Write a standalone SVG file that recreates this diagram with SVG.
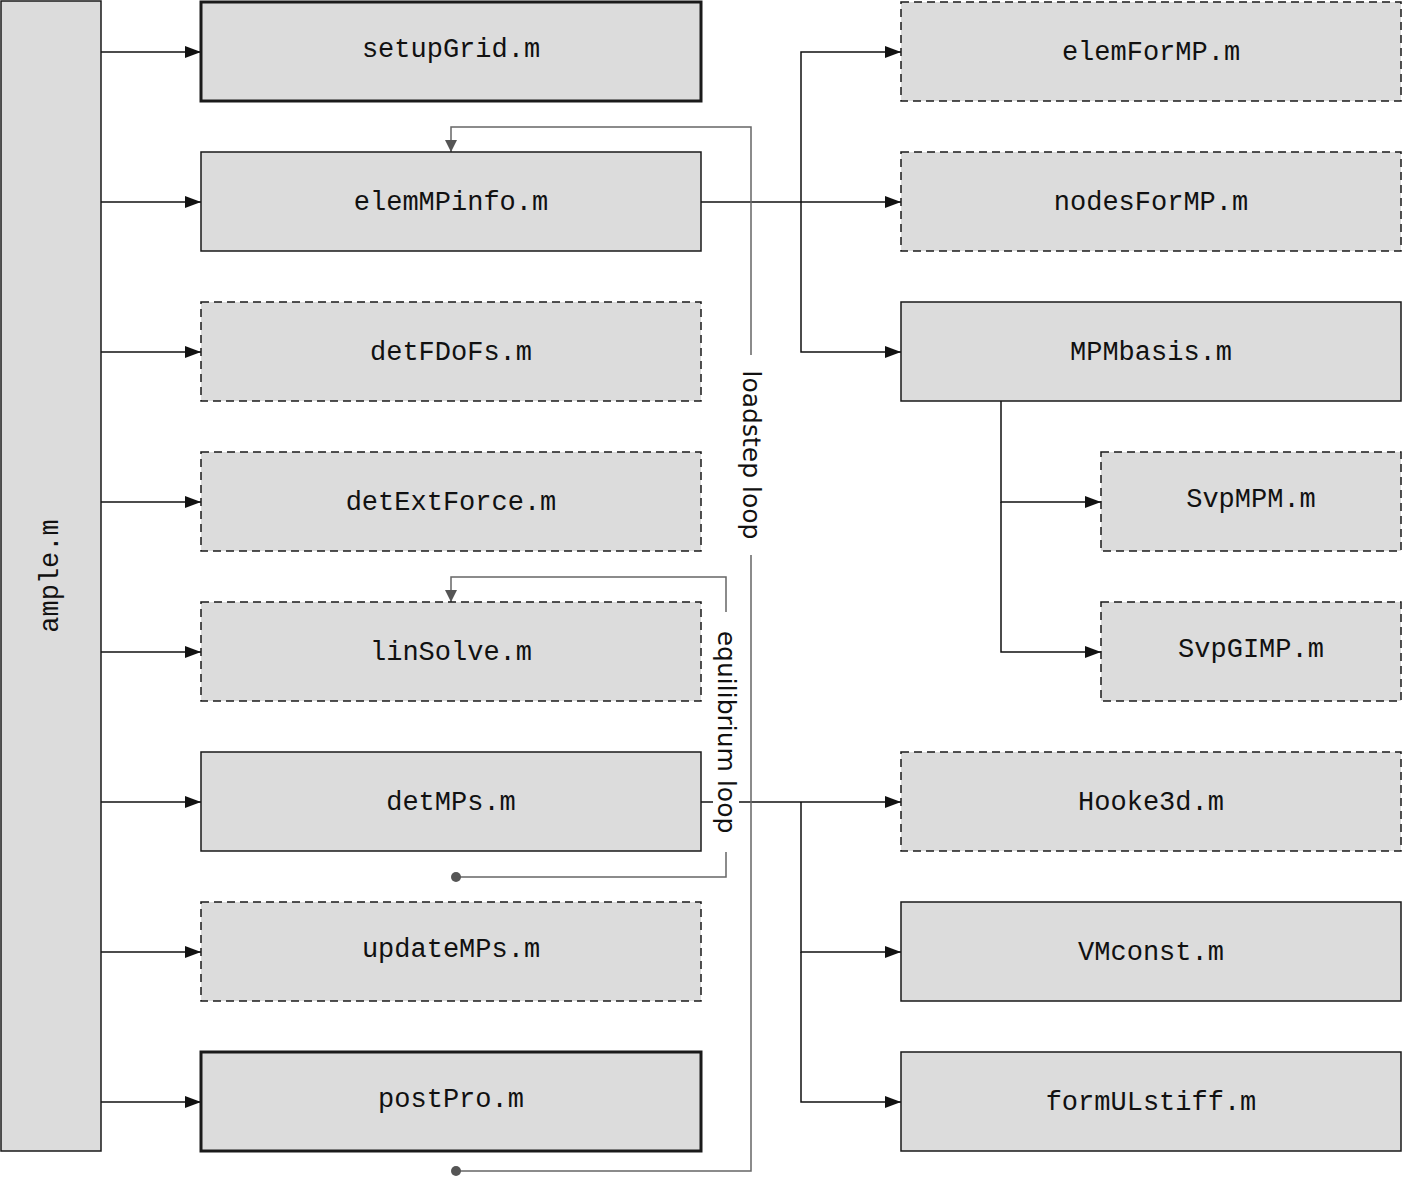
<svg xmlns="http://www.w3.org/2000/svg" width="1402" height="1179" viewBox="0 0 1402 1179">
<style>
.b{fill:#dcdcdc;stroke:#1a1a1a;stroke-width:1.5}
.d{stroke-dasharray:8,5}
.k{stroke-width:3}
.t{font-family:"Liberation Mono",monospace;font-size:27px;fill:#111;text-anchor:middle;dominant-baseline:central}
.c{stroke:#111;stroke-width:1.5;fill:none}
.g{stroke:#666;stroke-width:1.5;fill:none}
.l{font-family:"DejaVu Sans","Liberation Sans",sans-serif;font-size:25px;fill:#111;text-anchor:middle;dominant-baseline:central}
</style>
<defs>
<marker id="a" markerWidth="16" markerHeight="12" refX="16" refY="6" orient="auto" markerUnits="userSpaceOnUse"><path d="M0,0L16,6L0,12z" fill="#111"/></marker>
<marker id="ag" markerWidth="12" markerHeight="16" refX="12" refY="8" orient="auto" markerUnits="userSpaceOnUse"><path d="M0,2L12,8L0,14z" fill="#555"/></marker>
</defs>
<rect width="1402" height="1179" fill="#fff"/>
<g id="connectors">
<path class="c" marker-end="url(#a)" d="M101,52H201"/>
<path class="c" marker-end="url(#a)" d="M101,202H201"/>
<path class="c" marker-end="url(#a)" d="M101,352H201"/>
<path class="c" marker-end="url(#a)" d="M101,502H201"/>
<path class="c" marker-end="url(#a)" d="M101,652H201"/>
<path class="c" marker-end="url(#a)" d="M101,802H201"/>
<path class="c" marker-end="url(#a)" d="M101,952H201"/>
<path class="c" marker-end="url(#a)" d="M101,1102H201"/>
<path class="c" marker-end="url(#a)" d="M701,202H901"/>
<path class="c" marker-end="url(#a)" d="M801,202V52H901"/>
<path class="c" marker-end="url(#a)" d="M801,202V352H901"/>
<path class="c" marker-end="url(#a)" d="M1001,401V502H1101"/>
<path class="c" marker-end="url(#a)" d="M1001,502V652H1101"/>
<path class="c" marker-end="url(#a)" d="M701,802H901"/>
<path class="c" marker-end="url(#a)" d="M801,802V952H901"/>
<path class="c" marker-end="url(#a)" d="M801,952V1102H901"/>
<path class="g" marker-end="url(#ag)" d="M456,1171H751V127H451V152"/>
<circle cx="456" cy="1171" r="5" fill="#555"/>
<path class="g" marker-end="url(#ag)" d="M456,877H726V577H451V602"/>
<circle cx="456" cy="877" r="5" fill="#555"/>
<rect x="738" y="355" width="26" height="200" fill="#fff"/>
<text class="l" transform="translate(751,455) rotate(90)">loadstep loop</text>
<rect x="713" y="612" width="26" height="240" fill="#fff"/>
<text class="l" transform="translate(726,732) rotate(90)">equilibrium loop</text>
</g>
<g id="ample"><rect class="b" x="1" y="1" width="100" height="1150"/><text class="t" transform="translate(51,576) rotate(-90)">ample.m</text></g>
<g id="setupGrid"><rect class="b k" x="201" y="2" width="500" height="99"/><text class="t" x="451" y="50">setupGrid.m</text></g>
<g id="elemMPinfo"><rect class="b" x="201" y="152" width="500" height="99"/><text class="t" x="451" y="203">elemMPinfo.m</text></g>
<g id="detFDoFs"><rect class="b d" x="201" y="302" width="500" height="99"/><text class="t" x="451" y="353">detFDoFs.m</text></g>
<g id="detExtForce"><rect class="b d" x="201" y="452" width="500" height="99"/><text class="t" x="451" y="503">detExtForce.m</text></g>
<g id="linSolve"><rect class="b d" x="201" y="602" width="500" height="99"/><text class="t" x="451" y="653">linSolve.m</text></g>
<g id="detMPs"><rect class="b" x="201" y="752" width="500" height="99"/><text class="t" x="451" y="803">detMPs.m</text></g>
<g id="updateMPs"><rect class="b d" x="201" y="902" width="500" height="99"/><text class="t" x="451" y="950">updateMPs.m</text></g>
<g id="postPro"><rect class="b k" x="201" y="1052" width="500" height="99"/><text class="t" x="451" y="1100">postPro.m</text></g>
<g id="elemForMP"><rect class="b d" x="901" y="2" width="500" height="99"/><text class="t" x="1151" y="53">elemForMP.m</text></g>
<g id="nodesForMP"><rect class="b d" x="901" y="152" width="500" height="99"/><text class="t" x="1151" y="203">nodesForMP.m</text></g>
<g id="MPMbasis"><rect class="b" x="901" y="302" width="500" height="99"/><text class="t" x="1151" y="353">MPMbasis.m</text></g>
<g id="SvpMPM"><rect class="b d" x="1101" y="452" width="300" height="99"/><text class="t" x="1251" y="500">SvpMPM.m</text></g>
<g id="SvpGIMP"><rect class="b d" x="1101" y="602" width="300" height="99"/><text class="t" x="1251" y="650">SvpGIMP.m</text></g>
<g id="Hooke3d"><rect class="b d" x="901" y="752" width="500" height="99"/><text class="t" x="1151" y="803">Hooke3d.m</text></g>
<g id="VMconst"><rect class="b" x="901" y="902" width="500" height="99"/><text class="t" x="1151" y="953">VMconst.m</text></g>
<g id="formULstiff"><rect class="b" x="901" y="1052" width="500" height="99"/><text class="t" x="1151" y="1103">formULstiff.m</text></g>
</svg>
